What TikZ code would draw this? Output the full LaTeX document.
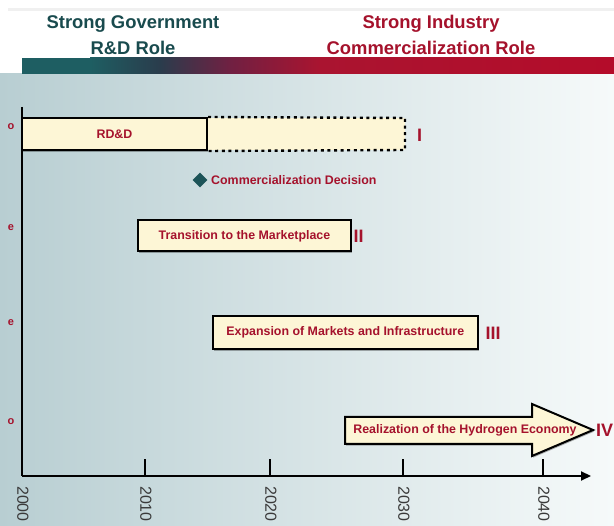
\documentclass[tikz,border=0pt]{standalone}
\usepackage{fontspec}
\setmainfont{Liberation Sans}
\usetikzlibrary{shapes.geometric,arrows.meta,shadows}

\definecolor{govteal}{RGB}{25,75,78}
\definecolor{indred}{RGB}{165,18,44}
\definecolor{barA}{RGB}{30,94,98}
\definecolor{barB}{RGB}{42,60,76}
\definecolor{barC}{RGB}{112,32,66}
\definecolor{barD}{RGB}{170,20,48}
\definecolor{barE}{RGB}{180,12,42}
\definecolor{bgL}{RGB}{184,206,210}
\definecolor{bgR}{RGB}{246,250,250}
\definecolor{cream}{RGB}{253,246,214}
\definecolor{diam}{RGB}{28,84,88}
\definecolor{yeargray}{RGB}{58,58,58}

\tikzset{
  hdr/.style={font=\bfseries\fontsize{18.4}{22}\selectfont, anchor=base, inner sep=0},
  phasebox/.style={draw=black, line width=2pt, fill=cream, inner sep=0,
    font=\bfseries\fontsize{12.4}{14}\selectfont, text=indred,
    drop shadow={shadow xshift=1.2pt, shadow yshift=-1.6pt, opacity=0.3, fill=black}},
  numeral/.style={font=\bfseries\fontsize{18}{20}\selectfont, text=indred, inner sep=0},
  boxtext/.style={font=\bfseries\fontsize{12.4}{14}\selectfont, text=indred, inner sep=0},
  yearlbl/.style={font=\fontsize{16}{18}\selectfont, text=yeargray, rotate=-90, anchor=west, inner sep=0},
  edgelbl/.style={font=\bfseries\fontsize{11}{12}\selectfont, text=indred, inner sep=0},
  axisline/.style={line width=2.2pt, black},
}

\begin{document}
\begin{tikzpicture}[x=1pt,y=-1pt]
\useasboundingbox (0,0) rectangle (614,526);

% page background
\fill[white] (0,0) rectangle (614,526);
\fill[black!6] (8,8) rectangle (614,11);
\shade[left color=bgL, right color=bgR] (0,74) rectangle (614,526);

% role bar, teal fading into red
\fill[barA] (22,58) rectangle (90.5,74);
\shade[left color=barA, right color=barB] (90,58) rectangle (160.5,74);
\shade[left color=barB, right color=barC] (160,58) rectangle (230.5,74);
\shade[left color=barC, right color=barD] (230,58) rectangle (320.5,74);
\shade[left color=barD, right color=barE] (320,58) rectangle (614,74);

% role headings
\node[hdr, text=govteal] (govA) at (133,28.5) {Strong Government};
\node[hdr, text=govteal] (govB) at (133,54.5) {R\&D Role};
\node[hdr, text=indred] (indA) at (431,28.5) {Strong Industry};
\node[hdr, text=indred] (indB) at (431,54.5) {Commercialization Role};

% edge letters
\node[edgelbl] (eA) at (11,127) {o};
\node[edgelbl] (eB) at (11,228) {e};
\node[edgelbl] (eC) at (11,323) {e};
\node[edgelbl] (eD) at (11,422) {o};

% time axes
\coordinate (ytop) at (22,107);
\coordinate (orig) at (22,476);
\coordinate (xend) at (591,476);
\draw[axisline] (ytop) -- (orig);
\draw[axisline, -{Triangle[length=10pt,width=9pt]}] (orig) -- (xend);

% ticks and years
\foreach \xx/\yr in {145/2010, 270/2020, 403/2030, 543/2040}{
  \coordinate (tk\yr) at (\xx,476);
  \draw[line width=2pt] (tk\yr) -- ++(0,-17);
}
\node[yearlbl] (y2000) at (23,486) {2000};
\foreach \xx/\yr in {146/2010, 271/2020, 404/2030, 544/2040}{
  \node[yearlbl] (y\yr) at (\xx,486) {\yr};
}

% phase I: RD&D, with its dotted continuation
\coordinate (rddNE) at (405,118);
\coordinate (rddSE) at (405,150);
\fill[cream] (207,118) rectangle (rddSE);
\node[phasebox, minimum width=185pt, minimum height=32pt] (rdd) at (114.5,134) {RD\&D};
\draw[line width=2.4pt, dash pattern=on 3pt off 3.6pt] (rdd.north east) -- (rddNE) -- (rddSE) -- (rdd.south east);
\node[numeral] (pI) at (419.5,135) {I};

% commercialization decision
\node[diamond, fill=diam, minimum size=15pt, inner sep=0] (dec) at (200,180) {};
\node[boxtext, anchor=west] (decl) at (211,180.5) {Commercialization Decision};

% phase II
\node[phasebox, minimum width=213pt, minimum height=31pt] (trans) at (244.5,236) {Transition to the Marketplace};
\node[numeral] (pII) at (358.5,236.5) {II};

% phase III
\node[phasebox, minimum width=265pt, minimum height=33pt] (expan) at (345.3,332.5) {Expansion of Markets and Infrastructure};
\node[numeral] (pIII) at (493,333) {III};

% phase IV arrow
\coordinate (arrTip) at (593,430);
\draw[line width=2pt, fill=cream, line join=miter,
      drop shadow={shadow xshift=1.2pt, shadow yshift=-1.6pt, opacity=0.3, fill=black}]
  (345,417) -- (532,417) -- (532,404) -- (arrTip) -- (532,456) -- (532,444) -- (345,444) -- cycle;
\node[boxtext] (realize) at (465,430.5) {Realization of the Hydrogen Economy};
\node[numeral] (pIV) at (604.5,430.5) {IV};

\end{tikzpicture}
\end{document}
